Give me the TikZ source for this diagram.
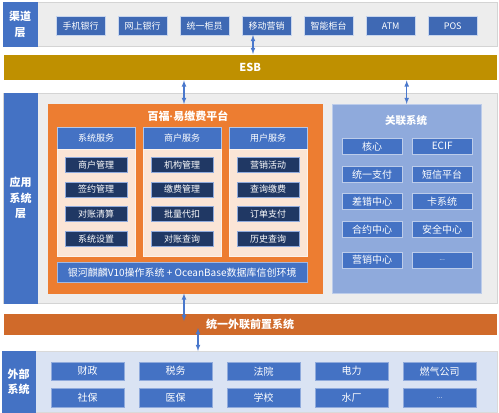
\documentclass[tikz,border=0pt]{standalone}
\usepackage{fontspec}
\setmainfont{Noto Sans CJK SC}
\newfontfamily\latinfont{Liberation Sans}
\usetikzlibrary{arrows,shapes,positioning}
\definecolor{appblue}{HTML}{4472C4}
\definecolor{navy}{HTML}{203864}
\definecolor{lightblue}{HTML}{8FAADC}
\definecolor{layerbg}{HTML}{EDEDED}
\definecolor{layerline}{HTML}{D4D4D4}
\definecolor{esbgold}{HTML}{BF9000}
\definecolor{platorange}{HTML}{ED7D31}
\definecolor{frontorange}{HTML}{D06A2A}
\definecolor{peach}{HTML}{FBE5D6}
\definecolor{extbg}{HTML}{DAE3F3}
\definecolor{arrowblue}{HTML}{4A78CC}
\tikzset{
  basic/.style  = {draw, rectangle, inner sep=0pt, align=center, anchor=north west, text=white},
  layer/.style  = {basic, draw=layerline, fill=layerbg},
  lbl/.style    = {basic, draw=appblue, fill=appblue,
                   font=\fontsize{11}{15.5}\selectfont\bfseries},
  chanitem/.style = {basic, draw=white!70!appblue, fill=appblue!92!black,
                   minimum width=49pt, minimum height=19pt, font=\fontsize{9}{10}\selectfont},
  bar/.style    = {basic, draw=white, minimum width=494pt,
                   font=\fontsize{11}{12}\selectfont\bfseries},
  head/.style   = {basic, draw=white!60!appblue, fill=appblue, minimum width=78pt,
                   minimum height=22pt, font=\fontsize{9}{10}\selectfont},
  body/.style   = {basic, draw=white!50!peach, fill=peach, minimum width=78pt, minimum height=107pt},
  svc/.style    = {basic, anchor=north, draw=lightblue, fill=navy, minimum width=62pt,
                   minimum height=15pt, font=\fontsize{9}{10}\selectfont},
  rel/.style    = {basic, draw=white!40!lightblue, fill=appblue, minimum width=60pt,
                   minimum height=16pt, font=\fontsize{10}{11}\selectfont},
  ext/.style    = {basic, draw=lightblue, fill=appblue, minimum width=73pt,
                   font=\fontsize{10}{11}\selectfont},
  link/.style   = {<->, draw=arrowblue, fill=arrowblue, line width=1.1pt},
}

\begin{document}
\begin{tikzpicture}[x=1pt,y=-1pt,>=latex]
\useasboundingbox (0,0) rectangle (499,413);

% channel layer
\node[layer, minimum width=494pt, minimum height=44pt] (chan) at (3,2) {};
\node[lbl, minimum width=34pt, minimum height=44pt] (chanlbl) at (3,2) {渠道\\层};
\foreach \name [count=\i] in {手机银行,网上银行,统一柜员,移动营销,智能柜台,ATM,POS}
  \node[chanitem] (ch\i) at ({56+62*(\i-1)},16) {\name};

% ESB
\node[bar, fill=esbgold, minimum height=26pt] (esb) at (3,54) {ESB};

% application layer
\node[layer, minimum width=494pt, minimum height=210pt] (app) at (3,93) {};
\node[lbl, minimum width=33pt, minimum height=210pt] (applbl) at (4,93) {应用\\系统\\层};

\node[basic, draw=platorange, fill=platorange, minimum width=274pt, minimum height=189pt] (plat) at (48,104) {};
\node[text=white, font=\fontsize{11}{12}\selectfont\bfseries] (plattitle) at (188,116) {百福{\latinfont·}易缴费平台};

\foreach \head [count=\i] in {系统服务,商户服务,用户服务} {
  \node[head] (col\i) at ({57+86*(\i-1)},127) {\head};
  \node[body] (body\i) at ({57+86*(\i-1)},149) {};
}
\foreach \name [count=\j] in {商户管理,签约管理,对账清算,系统设置}
  \node[svc] (c1\j) at (96,{157+24.7*(\j-1)}) {\name};
\foreach \name [count=\j] in {机构管理,缴费管理,批量代扣,对账查询}
  \node[svc] (c2\j) at (182,{157+24.7*(\j-1)}) {\name};
\foreach \name [count=\j] in {营销活动,查询缴费,订单支付,历史查询}
  \node[svc] (c3\j) at (268,{157+24.7*(\j-1)}) {\name};

\node[basic, draw=white!50!appblue, fill=appblue, minimum width=250pt, minimum height=20pt,
      font=\fontsize{10}{11}\selectfont] (os) at (57,262) {银河麒麟V10操作系统 + OceanBase数据库信创环境};

% related systems
\node[basic, draw=white!40!lightblue, fill=lightblue, minimum width=149pt, minimum height=189pt] (rel) at (332,104) {};
\node[text=white, font=\fontsize{10.5}{12}\selectfont\bfseries] (reltitle) at (406,121) {关联系统};
\foreach \a/\b/\y [count=\j] in {核心/ECIF/138,统一支付/短信平台/166,差错中心/卡系统/193,合约中心/安全中心/221}{
  \node[rel] (r\j1) at (342,\y) {\a};
  \node[rel] (r\j2) at (412,\y) {\b};
}
\node[rel] (r51) at (342,252) {营销中心};
\node[rel, font=\fontsize{7}{8}\selectfont] (r52) at (412,252) {...};

% front system
\node[bar, fill=frontorange, minimum height=22pt] (front) at (3,313) {统一外联前置系统};

% external systems
\node[basic, draw=white!85!black, fill=extbg, minimum width=494pt, minimum height=61pt] (extsys) at (3,351) {};
\node[lbl, minimum width=33pt, minimum height=61pt] (extlbl) at (2,351) {外部\\系统};
\foreach \name [count=\i] in {财政,税务,法院,电力,燃气公司}
  \node[ext, minimum height=18pt] (e1\i) at ({51+88*(\i-1)},362) {\name};
\foreach \name [count=\i] in {社保,医保,学校,水厂}
  \node[ext, minimum height=19pt] (e2\i) at ({51+88*(\i-1)},388) {\name};
\node[ext, minimum height=19pt, font=\fontsize{7}{8}\selectfont] (e25) at (403,388) {...};

% arrows
\coordinate (a1) at (253,35);
\coordinate (a2) at (184,321);
\coordinate (a3) at (198,328);
\draw[link] (a1) -- (a1 |- esb.north);
\draw[link] (esb.south -| a2) -- (plat.north -| a2);
\draw[link] (esb.south -| rel.north) -- (rel.north);
\draw[link] (plat.south -| a2) -- (a2);
\draw[link] (a3) -- (a3 |- extsys.north);

\end{tikzpicture}
\end{document}
